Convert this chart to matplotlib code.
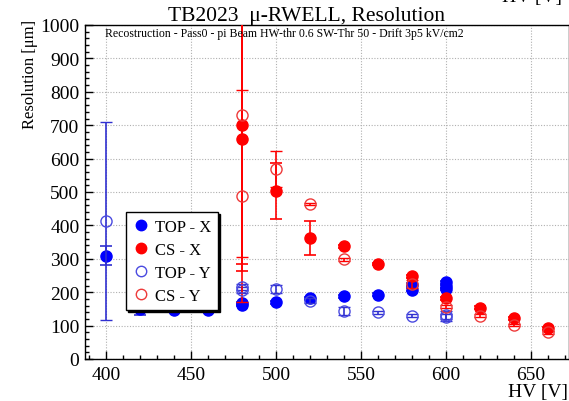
import matplotlib
matplotlib.use("Agg")
import matplotlib.pyplot as plt
from matplotlib.ticker import MultipleLocator
from matplotlib.lines import Line2D

plt.rcParams['font.family'] = ['Liberation Serif', 'DejaVu Serif']

# ---- data ----
top_x_hv  = [400, 420, 440, 460, 480, 480, 500, 520, 540, 560, 580, 580, 600, 600, 600]
top_x_val = [309, 150, 147, 147, 162, 167, 170, 182, 188, 193, 223, 208, 230, 218, 210]
top_x_err = [28, 18, 4, 4, 4, 4, 4, 4, 4, 4, 4, 4, 4, 4, 4]

cs_x_hv  = [480, 480, 500, 520, 540, 560, 580, 600, 620, 640, 660]
cs_x_val = [700, 659, 503, 362, 337, 284, 248, 182, 154, 122, 92]
cs_x_err = [416, 395, 84, 50, 4, 4, 4, 4, 4, 4, 4]

top_y_hv  = [400, 480, 480, 500, 520, 540, 560, 580, 600, 600]
top_y_val = [414, 216, 207, 210, 175, 144, 140, 130, 133, 125]
top_y_err = [297, 10, 10, 12, 8, 12, 4, 4, 12, 10]

cs_y_hv  = [480, 480, 500, 520, 540, 580, 600, 620, 640, 660]
cs_y_val = [731, 489, 569, 464, 298, 225, 157, 130, 102, 80]
cs_y_err = [426, 317, 54, 4, 4, 12, 4, 4, 4, 4]

labels = ["TOP - X", "CS - X", "TOP - Y", "CS - Y"]
title = "TB2023  \u03bc-RWELL, Resolution"
subtitle = "Recostruction - Pass0 - pi Beam HW-thr 0.6 SW-Thr 50 - Drift 3p5 kV/cm2"
xlabel = "HV [V]"
ylabel = "Resolution [\u03bcm]"

W, H = 569, 402
fig = plt.figure(figsize=(W / 100, H / 100), dpi=100)
ax = fig.add_axes([85 / W, (H - 360) / H, (569 - 85) / W, (360 - 26) / H])

blue = '#0000ff'
red = '#ff0000'
blue_open = '#4a4ae0'
red_open = '#ee3a3a'
blue_bar = '#3030d0'
ms = 8

ax.errorbar(top_x_hv, top_x_val, yerr=top_x_err, fmt='o', color=blue, ecolor=blue_bar,
            ms=ms, mec=blue, mfc=blue, elinewidth=1.2, capsize=4, capthick=1.2, zorder=3)
ax.errorbar(cs_x_hv, cs_x_val, yerr=cs_x_err, fmt='o', color=red, ecolor=red,
            ms=ms, mec=red, mfc=red, elinewidth=1.2, capsize=4, capthick=1.2, zorder=3)
ax.errorbar(top_y_hv, top_y_val, yerr=top_y_err, fmt='o', color=blue_open, ecolor=blue_bar,
            ms=ms, mec=blue_open, mfc='none', mew=1.0, elinewidth=1.2, capsize=4, capthick=1.2, zorder=4)
ax.errorbar(cs_y_hv, cs_y_val, yerr=cs_y_err, fmt='o', color=red_open, ecolor=red,
            ms=ms, mec=red_open, mfc='none', mew=1.0, elinewidth=1.2, capsize=4, capthick=1.2, zorder=4)

ax.set_xlim(387.5, 672.5)
ax.set_ylim(0, 1000)
ax.xaxis.set_major_locator(MultipleLocator(50))
ax.xaxis.set_minor_locator(MultipleLocator(10))
ax.yaxis.set_major_locator(MultipleLocator(100))
ax.yaxis.set_minor_locator(MultipleLocator(20))
ax.tick_params(which='both', direction='in', top=False, right=False, labelsize=14)
ax.tick_params(which='major', length=5.5, width=1)
ax.tick_params(which='minor', length=3, width=1)
ax.tick_params(axis='x', pad=5)
ax.tick_params(axis='y', pad=4)
ax.grid(True, which='major', color='#b0b0b0', linestyle=(0, (1, 1.5)), linewidth=0.8)
for s in ax.spines.values():
    s.set_linewidth(1.0)

handles = [
    Line2D([], [], ls='none', marker='o', ms=7.5, mfc=blue, mec=blue),
    Line2D([], [], ls='none', marker='o', ms=7.5, mfc=red, mec=red),
    Line2D([], [], ls='none', marker='o', ms=7.5, mfc='none', mec=blue_open, mew=1.0),
    Line2D([], [], ls='none', marker='o', ms=7.5, mfc='none', mec=red_open, mew=1.0),
]
leg = ax.legend(handles, labels, loc='upper left', bbox_to_anchor=(0.085, 0.44),
                borderaxespad=0, fontsize=12, frameon=True, fancybox=False, edgecolor='black',
                framealpha=1, shadow={'color': 'black', 'alpha': 1, 'ox': 1.5, 'oy': -1.5},
                handletextpad=0.35, handlelength=1.0, labelspacing=0.42, borderpad=0.4)
leg.get_frame().set_linewidth(1.0)
leg.set_zorder(10)

fig.text(307 / W, 1 - 16 / H, title, ha='center', va='center', fontsize=15.5)
fig.text(105 / W, 1 - 34 / H, subtitle, ha='left', va='center', fontsize=8.5)
fig.text(30 / W, 1 - 20 / H, ylabel, ha='center', va='top', rotation=90, fontsize=12)
fig.text(568 / W, 1 - 393 / H, xlabel, ha='right', va='center', fontsize=14)
fig.text(562 / W, 1 - 6 / H, xlabel, ha='right', va='bottom', fontsize=14)

fig.savefig('out.png', dpi=100)
